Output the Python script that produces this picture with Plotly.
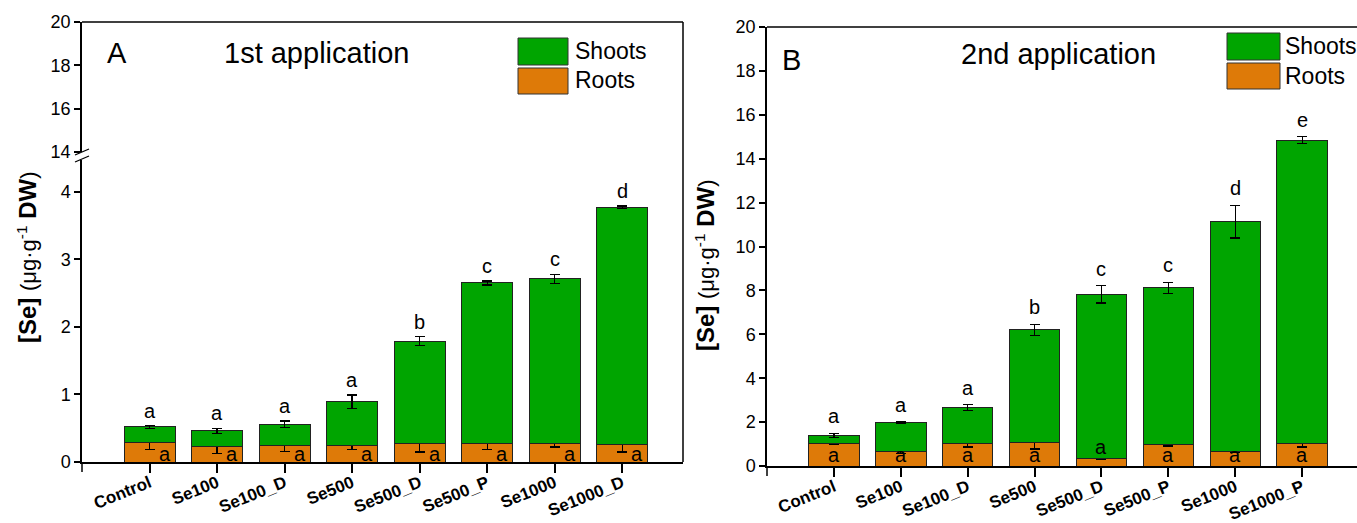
import plotly.graph_objects as go

# ---------------- data ----------------
cats_a = ["Control", "Se100", "Se100_D", "Se500", "Se500_D", "Se500_P", "Se1000", "Se1000_D"]
roots_a = [0.29, 0.23, 0.25, 0.25, 0.28, 0.28, 0.28, 0.26]
roots_a_err = [0.11, 0.10, 0.095, 0.06, 0.13, 0.09, 0.06, 0.11]
shoots_a = [0.23, 0.23, 0.31, 0.64, 1.51, 2.37, 2.43, 3.51]
shoots_a_err = [0.02, 0.037, 0.047, 0.10, 0.064, 0.03, 0.07, 0.017]
letters_shoots_a = ["a", "a", "a", "a", "b", "c", "c", "d"]
letters_roots_a = ["a", "a", "a", "a", "a", "a", "a", "a"]

cats_b = ["Control", "Se100", "Se100_D", "Se500", "Se500_D", "Se500_P", "Se1000", "Se1000_P"]
roots_b = [1.04, 0.67, 1.04, 1.08, 0.35, 0.96, 0.67, 1.04]
roots_b_err = [0.05, 0.11, 0.18, 0.30, 0.03, 0.05, 0.05, 0.18]
shoots_b = [0.36, 1.30, 1.63, 5.13, 7.47, 7.16, 10.46, 13.81]
shoots_b_err = [0.09, 0.03, 0.13, 0.25, 0.40, 0.25, 0.74, 0.15]
letters_shoots_b = ["a", "a", "a", "b", "c", "c", "d", "e"]
letters_roots_b = ["a", "a", "a", "a", "a", "a", "a", "a"]

yticks_a_low = [0, 1, 2, 3, 4]
yticks_a_high = [14, 16, 18, 20]
yticks_b = [0, 2, 4, 6, 8, 10, 12, 14, 16, 18, 20]

# ---------------- style ----------------
W, H = 1357, 523
GREEN = "#00A500"
ORANGE = "#DE7A08"
FONT = "Liberation Sans, Arial, sans-serif"


def px(x):
    return x / W


def py(y):
    return 1 - y / H


fig = go.Figure()

err_style = dict(type="data", color="black", thickness=1.3, width=5)
bar_line = dict(color="#222222", width=1)


def add_panel(cats, roots, roots_err, shoots, shoots_err, xa, ya):
    idx = list(range(len(cats)))
    fig.add_trace(go.Bar(x=idx, y=roots, marker=dict(color=ORANGE, line=bar_line),
                         error_y=dict(array=roots_err, **err_style), width=0.755,
                         xaxis=xa, yaxis=ya, showlegend=False, name="Roots"))
    fig.add_trace(go.Bar(x=idx, y=shoots, marker=dict(color=GREEN, line=bar_line),
                         error_y=dict(array=shoots_err, **err_style), width=0.755,
                         xaxis=xa, yaxis=ya, showlegend=False, name="Shoots"))


add_panel(cats_a, roots_a, roots_a_err, shoots_a, shoots_a_err, "x", "y")
add_panel(cats_b, roots_b, roots_b_err, shoots_b, shoots_b_err, "x2", "y2")
# empty trace so the upper (broken) segment of panel A is drawn
fig.add_trace(go.Scatter(x=[None], y=[None], xaxis="x", yaxis="y3", showlegend=False))

tickfont = dict(family=FONT, size=18, color="black")
xtickfont = dict(family=FONT, size=17, color="black", weight="bold")
common_y = dict(showline=True, linecolor="black", linewidth=1.5, ticks="outside",
                ticklen=6, tickwidth=1.5, tickcolor="black", showgrid=False,
                zeroline=False, tickfont=tickfont, automargin=False)
common_x = dict(showline=True, linecolor="black", linewidth=1.5, ticks="outside",
                ticklen=9, tickwidth=1.5, tickcolor="black", showgrid=False,
                zeroline=False, tickfont=xtickfont, tickangle=-22, tickmode="array",
                automargin=False, ticklabelstandoff=-6)

fig.update_layout(
    width=W, height=H, margin=dict(l=0, r=0, t=0, b=0, pad=0, autoexpand=False),
    paper_bgcolor="white", plot_bgcolor="rgba(0,0,0,0)",
    barmode="stack",
    font=dict(family=FONT, color="black"),
    xaxis=dict(domain=[px(82), px(683)], range=[-1.0, 7.9], anchor="y",
               tickvals=list(range(len(cats_a))), ticktext=cats_a, **common_x),
    yaxis=dict(domain=[py(462), py(160)], range=[0, 4.47], anchor="x",
               tickvals=yticks_a_low, **common_y),
    yaxis3=dict(domain=[py(152), py(22)], range=[14, 20], anchor="x",
                tickvals=yticks_a_high, **common_y),
    xaxis2=dict(domain=[px(767), 1.0], range=[-1.0, 7.82], anchor="y2",
                tickvals=list(range(len(cats_b))), ticktext=cats_b, **common_x),
    yaxis2=dict(domain=[py(466), py(27)], range=[0, 20], anchor="x2",
                tickvals=yticks_b, **common_y),
)

shapes = []
lw = dict(color="black", width=1.5)
# frame of panel A
shapes.append(dict(type="line", xref="paper", yref="paper", x0=px(82), x1=px(683), y0=py(22), y1=py(22), line=lw))
shapes.append(dict(type="line", xref="paper", yref="paper", x0=px(683), x1=px(683), y0=py(22), y1=py(462), line=lw))
shapes.append(dict(type="line", xref="paper", yref="paper", x0=px(82), x1=px(82), y0=py(462), y1=py(472), line=lw))
# axis break marks
for dy in (0, 7):
    shapes.append(dict(type="line", xref="paper", yref="paper", x0=px(75), x1=px(89),
                       y0=py(155 + dy), y1=py(149 + dy), line=dict(color="black", width=1.3)))
# frame of panel B
shapes.append(dict(type="line", xref="paper", yref="paper", x0=px(767), x1=1.0, y0=py(27), y1=py(27), line=lw))
shapes.append(dict(type="line", xref="paper", yref="paper", x0=px(767), x1=px(767), y0=py(466), y1=py(476), line=lw))

ann = []


# legends (drawn as boxes + text)
def legend(x0, x1, ys, yr, tx, ty_s, ty_r):
    shapes.append(dict(type="rect", xref="paper", yref="paper", x0=px(x0), x1=px(x1),
                       y0=py(ys[1]), y1=py(ys[0]), fillcolor=GREEN, line=dict(color="#333", width=1)))
    shapes.append(dict(type="rect", xref="paper", yref="paper", x0=px(x0), x1=px(x1),
                       y0=py(yr[1]), y1=py(yr[0]), fillcolor=ORANGE, line=dict(color="#333", width=1)))
    ann.append(dict(xref="paper", yref="paper", x=px(tx), y=py(ty_s), text="Shoots", showarrow=False,
                    xanchor="left", yanchor="middle", font=dict(size=23, family=FONT)))
    ann.append(dict(xref="paper", yref="paper", x=px(tx), y=py(ty_r), text="Roots", showarrow=False,
                    xanchor="left", yanchor="middle", font=dict(size=23, family=FONT)))


legend(518, 568, (38, 65), (68, 94), 573, 51, 80)
legend(1227, 1280, (33, 60), (63, 89), 1283, 46, 76)


# panel labels and titles
def label(x, y, text, size=29):
    ann.append(dict(xref="paper", yref="paper", x=px(x), y=py(y), text=text, showarrow=False,
                    xanchor="center", yanchor="middle", font=dict(size=size, family=FONT)))


label(117, 53, "A")
label(316, 53, "1st application")
label(791, 60, "B")
label(1058, 54, "2nd application")

ytitle = ("<b>[Se]</b> <span style='font-size:22px'>(μg·g<sup>-1</sup></span> <b>DW</b>"
          "<span style='font-size:22px'>)</span>")
ann.append(dict(xref="paper", yref="paper", x=px(27), y=py(257), text=ytitle, showarrow=False,
                xanchor="center", yanchor="middle", textangle=-90, font=dict(size=24, family=FONT)))
ann.append(dict(xref="paper", yref="paper", x=px(705), y=py(265), text=ytitle, showarrow=False,
                xanchor="center", yanchor="middle", textangle=-90, font=dict(size=24, family=FONT)))

# significance letters
lf = dict(size=20, family=FONT, color="black")
for i in range(len(cats_a)):
    top = roots_a[i] + shoots_a[i] + shoots_a_err[i]
    ann.append(dict(xref="x", yref="y", x=i, y=top, text=letters_shoots_a[i], showarrow=False,
                    xanchor="center", yanchor="bottom", yshift=2, font=lf))
    ann.append(dict(xref="x", yref="y", x=i, y=0, text=letters_roots_a[i], showarrow=False,
                    xanchor="center", yanchor="middle", yshift=8, xshift=15, font=lf))
for i in range(len(cats_b)):
    top = roots_b[i] + shoots_b[i] + shoots_b_err[i]
    ann.append(dict(xref="x2", yref="y2", x=i, y=top, text=letters_shoots_b[i], showarrow=False,
                    xanchor="center", yanchor="bottom", yshift=4, font=lf))
    base = roots_b[i] if roots_b[i] < 0.5 else 0
    ann.append(dict(xref="x2", yref="y2", x=i, y=base, text=letters_roots_b[i], showarrow=False,
                    xanchor="center", yanchor="middle", yshift=11, font=lf))

fig.update_layout(shapes=shapes, annotations=ann)
fig.write_html(
    "out.html",
    config={"displayModeBar": False},
    post_script=("var s=document.documentElement.style;s.margin='0';s.padding='0';s.overflow='hidden';"
                 "s.height='523px';var b=document.body.style;b.margin='0';b.padding='0';"
                 "b.overflow='hidden';b.height='523px';"),
)
